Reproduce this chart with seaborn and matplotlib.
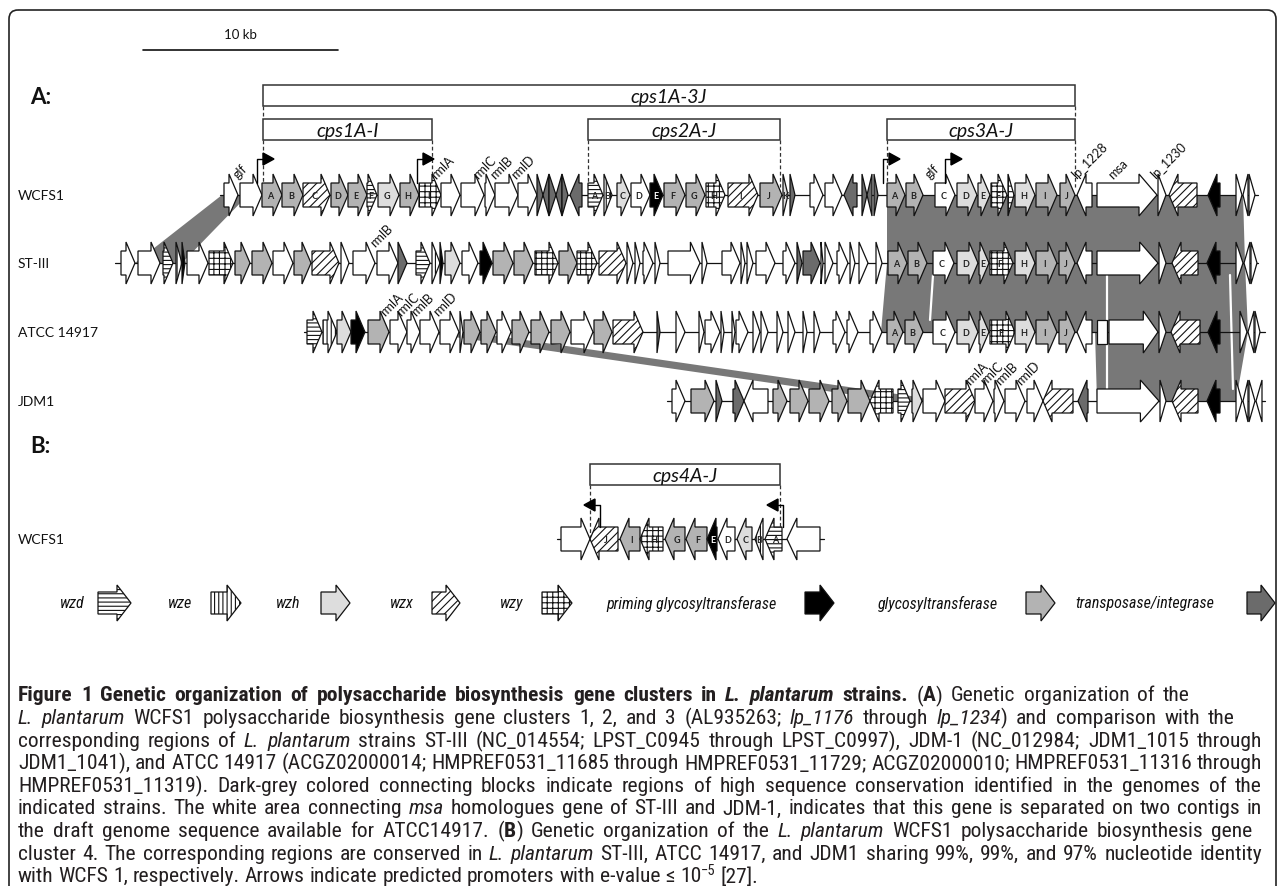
import matplotlib
matplotlib.use("Agg")
import matplotlib.pyplot as plt
import seaborn as sns
from matplotlib.patches import Polygon, Rectangle, FancyBboxPatch
from matplotlib import font_manager

# ---------------- data ----------------
# gene tuples: (start, end, strand, kind, letter); positions on a common map axis (195 units = 10 kb)
# kinds: w other, g glycosyltransferase, l wzh, t transposase, k priming GT, d wzd, e wze, x wzx, y wzy
scale_bar = (143, 338)
scale_label = "10 kb"

wcfs1_genes = [
    (224, 238, 1, 'w', ''), (240, 262, 1, 'w', ''),
    (262, 282, 1, 'g', 'A'), (282, 303, 1, 'g', 'B'), (303, 330, 1, 'x', 'C'), (331, 348, 1, 'g', 'D'),
    (348, 367, 1, 'g', 'E'), (367, 377, 1, 'd', 'F'), (378, 399, 1, 'l', 'G'), (400, 419, 1, 'g', 'H'),
    (419, 441, 1, 'y', 'I'),
    (441, 460, 1, 'w', ''), (461, 484, 1, 'w', ''), (485, 495, 1, 'w', ''), (495, 518, 1, 'w', ''), (518, 537, 1, 'w', ''),
    (537, 543, 1, 't', ''), (543, 549, -1, 't', ''), (549, 556, 1, 't', ''), (556, 562, -1, 't', ''),
    (562, 568, 1, 't', ''), (570, 582, -1, 't', ''),
    (588, 603, 1, 'd', 'A'), (604, 612, 1, 'e', 'B'), (617, 630, 1, 'l', 'C'), (631, 650, 1, 'w', 'D'),
    (650, 663, 1, 'k', 'E'), (664, 685, 1, 'g', 'F'), (686, 705, 1, 'g', 'G'), (706, 725, 1, 'y', 'H'),
    (728, 758, 1, 'x', 'I'), (760, 782, 1, 'g', 'J'), (783, 788, 1, 'l', 'K'), (790, 795, 1, 't', ''),
    (810, 823, 1, 'w', ''), (825, 842, 1, 'w', ''), (844, 857, -1, 't', ''),
    (862, 867, 1, 't', ''), (867, 872, -1, 't', ''), (874, 878, 1, 't', ''),
    (887, 905, 1, 'g', 'A'), (906, 923, 1, 'g', 'B'), (935, 955, 1, 'w', 'C'), (957, 977, 1, 'l', 'D'),
    (978, 990, 1, 'l', 'E'), (991, 1007, 1, 'y', 'F'), (1008, 1014, 1, 'y', ''), (1015, 1035, 1, 'l', 'H'),
    (1036, 1057, 1, 'g', 'I'), (1060, 1075, 1, 'g', 'J'),
    (1077, 1092, -1, 'w', ''), (1097, 1157, 1, 'w', ''), (1158, 1166, 1, 'w', ''), (1169, 1197, -1, 'x', ''),
    (1208, 1220, -1, 'k', ''), (1236, 1242, 1, 'w', ''), (1243, 1248, -1, 'w', ''), (1249, 1255, 1, 'w', ''),
]
st3_genes = [
    (121, 135, 1, 'w', ''), (138, 160, 1, 'w', ''), (163, 173, 1, 'd', ''), (176, 182, 1, 'e', ''),
    (182, 185, 1, 'k', ''), (187, 208, 1, 'w', ''), (209, 233, 1, 'y', ''), (235, 250, 1, 'g', ''),
    (252, 272, 1, 'g', ''), (273, 293, 1, 'w', ''), (294, 311, 1, 'g', ''), (312, 339, 1, 'x', ''),
    (341, 349, 1, 'w', ''), (353, 375, 1, 'w', ''), (377, 398, 1, 'w', ''), (398, 407, 1, 't', ''),
    (416, 430, 1, 'd', ''), (432, 440, 1, 'e', ''), (440, 443, 1, 'k', ''), (445, 460, 1, 'l', ''),
    (462, 478, 1, 'w', ''), (480, 492, 1, 'k', ''), (493, 513, 1, 'g', ''), (514, 533, 1, 'g', ''),
    (535, 558, 1, 'y', ''), (559, 577, 1, 'g', ''), (577, 597, 1, 'y', ''), (599, 626, 1, 'x', ''),
    (627, 633, 1, 'w', ''), (635, 640, 1, 'w', ''), (643, 653, 1, 'w', ''), (655, 660, 1, 'w', ''),
    (668, 700, 1, 'w', ''), (702, 707, 1, 'w', ''),
    (722, 740, 1, 'w', ''), (741, 745, 1, 'w', ''), (747, 753, 1, 'w', ''), (756, 775, 1, 'w', ''),
    (783, 795, 1, 'w', ''), (797, 802, 1, 't', ''), (803, 820, 1, 't', ''), (821, 823, 1, 'w', ''),
    (825, 833, 1, 'w', ''), (837, 848, 1, 'w', ''), (850, 855, 1, 'w', ''), (859, 868, 1, 'w', ''),
    (876, 882, 1, 'w', ''),
    (888, 907, 1, 'g', 'A'), (908, 927, 1, 'g', 'B'), (933, 954, 1, 'w', 'C'), (957, 978, 1, 'l', 'D'),
    (979, 989, 1, 'l', 'E'), (990, 1013, 1, 'y', 'F'), (1015, 1035, 1, 'l', 'H'), (1036, 1057, 1, 'g', 'I'),
    (1059, 1075, 1, 'g', 'J'),
    (1077, 1092, -1, 'w', ''), (1097, 1158, 1, 'w', ''), (1159, 1166, 1, 'w', ''), (1172, 1198, -1, 'x', ''),
    (1207, 1220, -1, 'k', ''), (1236, 1243, 1, 'w', ''), (1244, 1250, -1, 'w', ''), (1251, 1257, 1, 'w', ''),
]
atcc_genes = [
    (307, 322, 1, 'd', ''), (323, 337, 1, 'e', ''), (337, 351, 1, 'l', ''), (351, 365, 1, 'k', ''),
    (368, 389, 1, 'g', ''), (390, 407, 1, 'w', ''), (407, 420, 1, 'w', ''), (420, 439, 1, 'w', ''),
    (440, 459, 1, 'w', ''), (460, 463, 1, 'w', ''), (464, 480, 1, 'g', ''), (481, 496, 1, 'g', ''),
    (497, 511, 1, 'w', ''), (512, 529, 1, 'g', ''), (531, 549, 1, 'g', ''), (551, 570, 1, 'g', ''),
    (571, 593, 1, 'w', ''), (594, 612, 1, 'g', ''), (613, 643, 1, 'x', ''), (657, 660, 1, 't', ''),
    (676, 685, 1, 'w', ''), (699, 704, 1, 'w', ''), (705, 720, 1, 'w', ''), (721, 724, 1, 'w', ''),
    (732, 735, 1, 'w', ''), (736, 748, 1, 'w', ''), (753, 760, 1, 'w', ''), (761, 768, 1, 'w', ''),
    (777, 783, 1, 'w', ''), (788, 795, 1, 'w', ''), (803, 807, 1, 'w', ''), (814, 820, 1, 'w', ''),
    (833, 845, 1, 'w', ''), (847, 858, 1, 'w', ''), (870, 882, 1, 'w', ''),
    (887, 903, 1, 'g', 'A'), (905, 923, 1, 'g', 'B'), (933, 955, 1, 'w', 'C'), (957, 978, 1, 'l', 'D'),
    (979, 989, 1, 'l', 'E'), (990, 1015, 1, 'y', 'F'), (1015, 1035, 1, 'l', 'H'), (1036, 1057, 1, 'g', 'I'),
    (1059, 1075, 1, 'g', 'J'),
    (1077, 1092, -1, 'w', ''), (1097, 1107, 0, 'w', ''), (1109, 1158, 1, 'w', ''), (1159, 1166, 1, 'w', ''),
    (1171, 1200, -1, 'x', ''), (1208, 1220, -1, 'k', ''), (1240, 1247, 1, 'w', ''), (1248, 1254, -1, 'w', ''),
    (1255, 1260, 1, 'w', ''),
]
jdm1_genes = [
    (672, 685, 1, 'w', ''), (691, 714, 1, 'g', ''), (716, 722, 1, 't', ''), (733, 744, 1, 't', ''),
    (744, 768, -1, 'w', ''), (773, 787, 1, 'g', ''), (790, 808, 1, 'g', ''), (809, 829, 1, 'g', ''),
    (832, 847, 1, 'g', ''), (848, 870, 1, 'g', ''), (870, 893, -1, 'y', ''), (898, 910, 1, 'd', ''),
    (912, 922, 1, 'l', ''), (923, 945, 1, 'w', ''), (945, 975, 1, 'x', ''), (975, 993, 1, 'w', ''),
    (994, 1004, 1, 'w', ''), (1005, 1025, 1, 'w', ''), (1027, 1043, 1, 'w', ''), (1043, 1073, -1, 'x', ''),
    (1078, 1088, -1, 't', ''), (1097, 1159, 1, 'w', ''), (1160, 1166, 1, 'w', ''), (1172, 1198, -1, 'x', ''),
    (1207, 1220, -1, 'k', ''), (1236, 1242, 1, 'w', ''), (1243, 1248, -1, 'w', ''), (1249, 1255, 1, 'w', ''),
    (1256, 1262, -1, 'w', ''),
]
cps4_genes = [
    (561, 590, 1, 'w', ''), (590, 618, -1, 'x', 'J'), (620, 640, -1, 'g', 'I'), (640, 663, -1, 'y', 'H'),
    (665, 685, -1, 'g', 'G'), (686, 707, -1, 'g', 'F'), (707, 717, -1, 'k', 'E'), (718, 735, -1, 'w', 'D'),
    (737, 752, -1, 'l', 'C'), (755, 763, -1, 'e', 'B'), (765, 782, -1, 'd', 'A'), (787, 820, -1, 'w', ''),
]

strain_names = ["WCFS1", "ST-III", "ATCC 14917", "JDM1"]
strain_rows = [wcfs1_genes, st3_genes, atcc_genes, jdm1_genes]
row_spans = [(220, 1258), (115, 1258), (304, 1265), (667, 1265)]
cps4_span = (557, 824)

clusters = [("cps1A-3J", 263, 1075, 0), ("cps1A-I", 263, 432, 1), ("cps2A-J", 588, 780, 1), ("cps3A-J", 887, 1075, 1)]
cps4_cluster = ("cps4A-J", 590, 780)

promoters_fwd = [257, 417, 883, 945]
promoters_rev = [600, 783]

gene_names = [  # (row, x, text)
    (0, 240, "glf"), (0, 438, "rmlA"), (0, 480, "rmlC"), (0, 497, "rmlB"), (0, 518, "rmlD"),
    (0, 932, "glf"), (0, 1078, "lp_1228"), (0, 1115, "msa"), (0, 1157, "lp_1230"),
    (1, 377, "rmlB"),
    (2, 387, "rmlA"), (2, 403, "rmlC"), (2, 418, "rmlB"), (2, 440, "rmlD"),
    (3, 972, "rmlA"), (3, 987, "rmlC"), (3, 1002, "rmlB"), (3, 1023, "rmlD"),
]

# conserved blocks: (row_top, row_bottom, [x top-left, x top-right], [x bottom-right, x bottom-left])
blocks = [
    (0, 1, (222, 248), (182, 135)),
    (0, 1, (887, 1243), (1245, 887)),
    (1, 2, (887, 1245), (1248, 881)),
    (2, 3, (1095, 1248), (1236, 1097)),
    (2, 3, (420, 470), (945, 895)),
]
white_gaps = [(1, 2, 933, 930), (1, 3, 1107, 1107), (1, 3, 1230, 1233)]

legend_labels = ["wzd", "wze", "wzh", "wzx", "wzy", "priming glycosyltransferase", "glycosyltransferase", "transposase/integrase"]
legend_kinds = ['d', 'e', 'l', 'x', 'y', 'k', 'g', 't']
legend_text_x = [72, 180, 288, 402, 512, 691, 938, 1145]
legend_arrow_x = [(98, 131), (211, 241), (321, 350), (432, 460), (542, 572), (805, 834), (1026, 1055), (1247, 1275)]

caption_lines = [
    [("Figure 1 Genetic organization of polysaccharide biosynthesis gene clusters in ", 'b'), ("L. plantarum", 'bi'),
     (" strains.", 'b'), (" (", 'r'), ("A", 'b'), (") Genetic organization of the", 'r')],
    [("L. plantarum", 'i'), (" WCFS1 polysaccharide biosynthesis gene clusters 1, 2, and 3 (AL935263; ", 'r'),
     ("lp_1176", 'i'), (" through ", 'r'), ("lp_1234", 'i'), (") and comparison with the", 'r')],
    [("corresponding regions of ", 'r'), ("L. plantarum", 'i'),
     (" strains ST-III (NC_014554; LPST_C0945 through LPST_C0997), JDM-1 (NC_012984; JDM1_1015 through", 'r')],
    [("JDM1_1041), and ATCC 14917 (ACGZ02000014; HMPREF0531_11685 through HMPREF0531_11729; ACGZ02000010; HMPREF0531_11316 through", 'r')],
    [("HMPREF0531_11319). Dark-grey colored connecting blocks indicate regions of high sequence conservation identified in the genomes of the", 'r')],
    [("indicated strains. The white area connecting ", 'r'), ("msa", 'i'),
     (" homologues gene of ST-III and JDM-1, indicates that this gene is separated on two contigs in", 'r')],
    [("the draft genome sequence available for ATCC14917. (", 'r'), ("B", 'b'), (") Genetic organization of the ", 'r'),
     ("L. plantarum", 'i'), (" WCFS1 polysaccharide biosynthesis gene", 'r')],
    [("cluster 4. The corresponding regions are conserved in ", 'r'), ("L. plantarum", 'i'),
     (" ST-III, ATCC 14917, and JDM1 sharing 99%, 99%, and 97% nucleotide identity", 'r')],
    [("with WCFS 1, respectively. Arrows indicate predicted promoters with e-value \u2264 10", 'r'), ("\u22125", 's'), (" [27].", 'r')],
]
caption_line_ends = [1190, 1235, 1262, 1262, 1262, 1262, 1252, 1262, None]

# ---------------- style ----------------
sns.set_theme(style="white")
avail = {f.name for f in font_manager.fontManager.ttflist}
def pick(prefs):
    for p in prefs:
        if p in avail:
            return p
    return "DejaVu Sans"
DIAG = pick(["Lato", "Open Sans", "DejaVu Sans"])
CAPF = pick(["Liberation Sans Narrow", "Roboto Condensed", "Open Sans Condensed", "Lato", "DejaVu Sans"])
plt.rcParams['font.family'] = [DIAG, 'DejaVu Sans']
plt.rcParams['hatch.linewidth'] = 0.8

FILL = {'w': 'white', 'g': '#b3b3b3', 'l': '#dddddd', 't': '#6b6b6b', 'k': 'black',
        'd': 'white', 'e': 'white', 'x': 'white', 'y': 'white'}
HATCH = {'d': '----', 'e': '||||', 'x': '////', 'y': '+++'}
BLOCK = '#787878'
ROW_Y = [196, 264, 333, 402]
CPS4_Y = 540
LEG_Y = 604

fig = plt.figure(figsize=(12.82, 8.87), dpi=100)
ax = fig.add_axes([0, 0, 1, 1])
ax.set_xlim(0, 1282)
ax.set_ylim(887, 0)
ax.axis('off')
sns.despine(ax=ax, left=True, bottom=True)


def gene_shape(x0, x1, y, strand, hb=12, hh=21, L=None):
    w = x1 - x0
    if L is None:
        L = min(w, max(9, 0.3 * w))
    if strand == 1:
        return [(x0, y - hb), (x1 - L, y - hb), (x1 - L, y - hh), (x1, y), (x1 - L, y + hh), (x1 - L, y + hb), (x0, y + hb)]
    if strand == -1:
        return [(x1, y - hb), (x0 + L, y - hb), (x0 + L, y - hh), (x0, y), (x0 + L, y + hh), (x0 + L, y + hb), (x1, y + hb)]
    return [(x0, y - hb), (x1, y - hb), (x1, y + hb), (x0, y + hb)]


def draw_gene(x0, x1, y, strand, kind, letter='', **kw):
    pts = gene_shape(x0, x1, y, strand, **kw)
    ax.add_patch(Polygon(pts, closed=True, facecolor=FILL[kind], edgecolor='#111111',
                         hatch=HATCH.get(kind), linewidth=0.9, zorder=3))
    if letter:
        w = x1 - x0
        cx = x0 + w * (0.42 if strand == 1 else 0.58)
        ax.text(cx, y + 0.5, letter, ha='center', va='center', fontsize=6.5, fontweight='bold',
                color='#222222' if kind != 'k' else 'white', zorder=4)


# conserved blocks
for r0, r1, (a, b), (c, d) in blocks:
    ax.add_patch(Polygon([(a, ROW_Y[r0]), (b, ROW_Y[r0]), (c, ROW_Y[r1]), (d, ROW_Y[r1])],
                         closed=True, facecolor=BLOCK, edgecolor='none', zorder=1))
for r0, r1, xa, xb in white_gaps:
    ax.plot([xa, xb], [ROW_Y[r0] + 12, ROW_Y[r1] - 12], color='white', lw=1.6, zorder=1.5)

# rows
for name, genes, (s, e), y in zip(strain_names, strain_rows, row_spans, ROW_Y):
    ax.plot([s, e], [y, y], color='#111111', lw=0.9, zorder=2)
    for g in genes:
        draw_gene(g[0], g[1], y, g[2], g[3], g[4])
    ax.text(18, y, name, ha='left', va='center', fontsize=10, color='#111111')

ax.plot(list(cps4_span), [CPS4_Y, CPS4_Y], color='#111111', lw=0.9, zorder=2)
for g in cps4_genes:
    draw_gene(g[0], g[1], CPS4_Y, g[2], g[3], g[4])
ax.text(18, CPS4_Y, "WCFS1", ha='left', va='center', fontsize=10, color='#111111')

# gene name labels
for r, x, t in gene_names:
    ax.text(x, ROW_Y[r] - 15, t, rotation=45, rotation_mode='anchor', ha='left', va='bottom',
            fontsize=9, color='#111111', zorder=4)

# cluster brackets
def bracket(label, x0, x1, ytop, h=21):
    ax.add_patch(Rectangle((x0, ytop), x1 - x0, h, facecolor='white', edgecolor='#333333', lw=1.1, zorder=3))
    ax.text((x0 + x1) / 2, ytop + h / 2 + 1, label, ha='center', va='center', fontsize=14,
            fontstyle='italic', color='#111111', zorder=4)

dash = dict(color='#333333', lw=0.9, ls=(0, (3, 2)), zorder=2.5)
for label, x0, x1, lev in clusters:
    ytop = 86 if lev == 0 else 120
    bracket(label, x0, x1, ytop)
    yb = ytop + 21
    yend = 120 if lev == 0 else ROW_Y[0] - 8
    for x in (x0, x1):
        ax.plot([x, x], [yb, yend], **dash)

label, x0, x1 = cps4_cluster
bracket(label, x0, x1, 465)
for x in (x0, x1):
    ax.plot([x, x], [486, CPS4_Y], **dash)

# promoters
for x in promoters_fwd:
    ax.plot([x, x, x + 6], [ROW_Y[0] - 12, 160, 160], color='black', lw=1.0, zorder=4)
    ax.add_patch(Polygon([(x + 6, 154), (x + 17, 160), (x + 6, 166)], closed=True, color='black', zorder=4))
for x in promoters_rev:
    ax.plot([x, x, x - 5], [CPS4_Y - 12, 506, 506], color='black', lw=1.0, zorder=4)
    ax.add_patch(Polygon([(x - 5, 500), (x - 16, 506), (x - 5, 512)], closed=True, color='black', zorder=4))

# scale bar and panel labels
ax.plot(list(scale_bar), [51, 51], color='#111111', lw=1.2)
ax.text(sum(scale_bar) / 2, 35, scale_label, ha='center', va='center', fontsize=9.5, color='#111111')
ax.text(30, 97, "A:", ha='left', va='center', fontsize=16, fontweight='bold', color='#111111')
ax.text(30, 447, "B:", ha='left', va='center', fontsize=16, fontweight='bold', color='#111111')

# legend
for lab, kind, tx, (a0, a1) in zip(legend_labels, legend_kinds, legend_text_x, legend_arrow_x):
    ax.text(tx, LEG_Y, lab, ha='center', va='center', fontsize=11.5, fontstyle='italic',
            family=[CAPF, 'DejaVu Sans'], color='#111111')
    draw_gene(a0, a1, LEG_Y, 1, kind, hb=11, hh=18, L=14)

# border (bottom edge lies below the cropped picture)
ax.add_patch(FancyBboxPatch((9, 11), 1267, 890, boxstyle="round,pad=0,rounding_size=9",
                            facecolor='none', edgecolor='#222222', lw=1.2, zorder=0.5, clip_on=True))

# caption
fig.canvas.draw()
renderer = fig.canvas.get_renderer()

def style_kw(st, size):
    kw = dict(family=[CAPF, 'DejaVu Sans'], fontsize=size, color='#231f20')
    if 'b' in st:
        kw['fontweight'] = 'bold'
    if 'i' in st:
        kw['fontstyle'] = 'italic'
    if st == 's':
        kw['fontsize'] = size * 0.68
    return kw

def measure(s, kw):
    t = ax.text(0, 0, s, **kw)
    w = t.get_window_extent(renderer).width
    t.remove()
    return w

def layout(line, size, target=None):
    pieces = []
    for text, st in line:
        parts = text.split(' ')
        pending = False
        for i, p in enumerate(parts):
            if i > 0:
                pending = True
            if p == '':
                continue
            pieces.append((p, st, pending))
            pending = False
        if pending and text.endswith(' '):
            pieces.append(('', st, True))
    # merge empty trailing pieces into next gap
    words = []
    gap_next = False
    for p, st, gap in pieces:
        if p == '':
            gap_next = True
            continue
        words.append((p, st, gap or gap_next))
        gap_next = False
    widths = [measure(p, style_kw(st, size)) for p, st, _ in words]
    gaps = [(measure('a a', style_kw(st, size)) - measure('aa', style_kw(st, size))) if g else 0.0
            for p, st, g in words]
    natural = sum(widths) + sum(gaps)
    ngaps = sum(1 for g in gaps if g > 0)
    extra = 0.0
    if target is not None and ngaps > 0:
        extra = (target - natural) / ngaps
    out = []
    x = 0.0
    for (p, st, g), w, gw in zip(words, widths, gaps):
        if gw > 0:
            x += gw + extra
        out.append((x, p, st))
        x += w
    return out, natural

base = 12.0
_, w4 = layout(caption_lines[3], base)
size = base * 1238.0 / w4
for i, line in enumerate(caption_lines):
    y = 696 + 22.6 * i
    end = caption_line_ends[i]
    items, _ = layout(line, size, None if end is None else end - 18)
    for x, p, st in items:
        kw = style_kw(st, size)
        yy = y - 6 if st == 's' else y
        ax.text(18 + x, yy, p, ha='left', va='center', **kw)

fig.savefig("out.png", dpi=100)
